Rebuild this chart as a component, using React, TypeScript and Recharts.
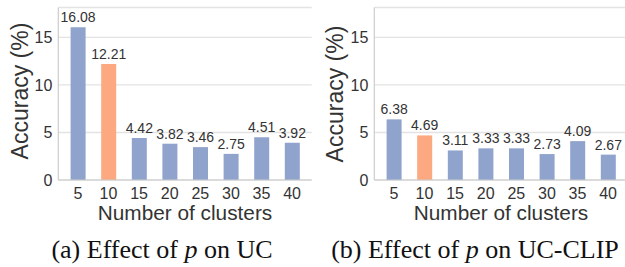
import React from 'react';
import { BarChart, Bar, XAxis, YAxis, CartesianGrid, Cell, LabelList } from 'recharts';

const clusters = ['5', '10', '15', '20', '25', '30', '35', '40'];
const ucValues = [16.08, 12.21, 4.42, 3.82, 3.46, 2.75, 4.51, 3.92];
const ucClipValues = [6.38, 4.69, 3.11, 3.33, 3.33, 2.73, 4.09, 2.67];
const yTicks = [0, 5, 10, 15];
const highlightIndex = 1;

const BLUE = '#8fa3cc';
const ORANGE = '#fca880';
const GRID = '#e3e3e3';
const FRAME = '#cccccc';
const TEXT = '#333333';
const SANS = '"Liberation Sans", Arial, sans-serif';
const SERIF = '"Liberation Serif", "Times New Roman", serif';

const ucData = clusters.map((k, i) => ({ k, v: ucValues[i] }));
const ucClipData = clusters.map((k, i) => ({ k, v: ucClipValues[i] }));

function Panel({ data, width, yAxisWidth, right }: { data: { k: string; v: number }[]; width: number; yAxisWidth: number; right: number }) {
  return (
    <BarChart
      width={width}
      height={267}
      data={data}
      margin={{ top: 7.5, right: right, bottom: 47, left: 0 }}
    >
      <CartesianGrid vertical={false} stroke={GRID} strokeWidth={1.3} />
      <XAxis
        dataKey="k"
        height={40}
        padding={{ left: 4.3, right: 4.3 }}
        axisLine={{ stroke: FRAME, strokeWidth: 1.2 }}
        tickLine={false}
        tickSize={6}
        tickMargin={1.5}
        tick={{ fill: TEXT, fontSize: 16, fontFamily: SANS }}
        interval={0}
      />
      <XAxis
        xAxisId="top"
        dataKey="k"
        orientation="top"
        height={0}
        padding={{ left: 4.3, right: 4.3 }}
        axisLine={{ stroke: FRAME, strokeWidth: 1.2 }}
        tickLine={false}
        tick={false}
      />
      <YAxis
        width={yAxisWidth}
        domain={[0, 18.15]}
        ticks={yTicks}
        axisLine={{ stroke: FRAME, strokeWidth: 1.2 }}
        tickLine={false}
        tickSize={4}
        tickMargin={2}
        tick={{ fill: TEXT, fontSize: 16, fontFamily: SANS }}
      />
      <YAxis
        yAxisId="r"
        orientation="right"
        width={0}
        domain={[0, 18.15]}
        axisLine={{ stroke: FRAME, strokeWidth: 1.2 }}
        tickLine={false}
        tick={false}
      />
      <Bar dataKey="v" barSize={15} isAnimationActive={false}>
        {data.map((d, i) => (
          <Cell key={d.k} fill={i === highlightIndex ? ORANGE : BLUE} />
        ))}
        <LabelList
          dataKey="v"
          position="top"
          offset={5}
          formatter={(v: any) => Number(v).toFixed(2)}
          style={{ fill: TEXT, fontSize: 14, fontFamily: SANS }}
        />
      </Bar>
    </BarChart>
  );
}

export default function App() {
  return (
    <div
      style={{
        position: 'absolute',
        left: 0,
        top: 0,
        width: 625,
        height: 267,
        overflow: 'hidden',
        background: '#ffffff',
      }}
    >
      <div style={{ position: 'absolute', left: 0, top: 0 }}>
        <Panel data={ucData} width={320} yAxisWidth={58.3} right={8.3} />
      </div>
      <div style={{ position: 'absolute', left: 305, top: 0 }}>
        <Panel data={ucClipData} width={330} yAxisWidth={69.3} right={7.3} />
      </div>
      <svg
        width={625}
        height={267}
        style={{ position: 'absolute', left: 0, top: 0, pointerEvents: 'none' }}
      >
        <text
          x={0}
          y={0}
          transform="translate(28,91) rotate(-90)"
          textAnchor="middle"
          fontFamily={SANS}
          fontSize={23}
          fill={TEXT}
        >
          Accuracy (%)
        </text>
        <text
          x={0}
          y={0}
          transform="translate(343,94) rotate(-90)"
          textAnchor="middle"
          fontFamily={SANS}
          fontSize={23}
          fill={TEXT}
        >
          Accuracy (%)
        </text>
        <text x={185} y={220} textAnchor="middle" fontFamily={SANS} fontSize={20.8} fill={TEXT}>
          Number of clusters
        </text>
        <text x={501} y={220} textAnchor="middle" fontFamily={SANS} fontSize={20.8} fill={TEXT}>
          Number of clusters
        </text>
        <text x={162} y={258} textAnchor="middle" fontFamily={SERIF} fontSize={26} fill="#111111">
          (a) Effect of <tspan fontStyle="italic">p</tspan> on UC
        </text>
        <text x={475} y={258} textAnchor="middle" fontFamily={SERIF} fontSize={26} fill="#111111">
          (b) Effect of <tspan fontStyle="italic">p</tspan> on UC-CLIP
        </text>
      </svg>
    </div>
  );
}
